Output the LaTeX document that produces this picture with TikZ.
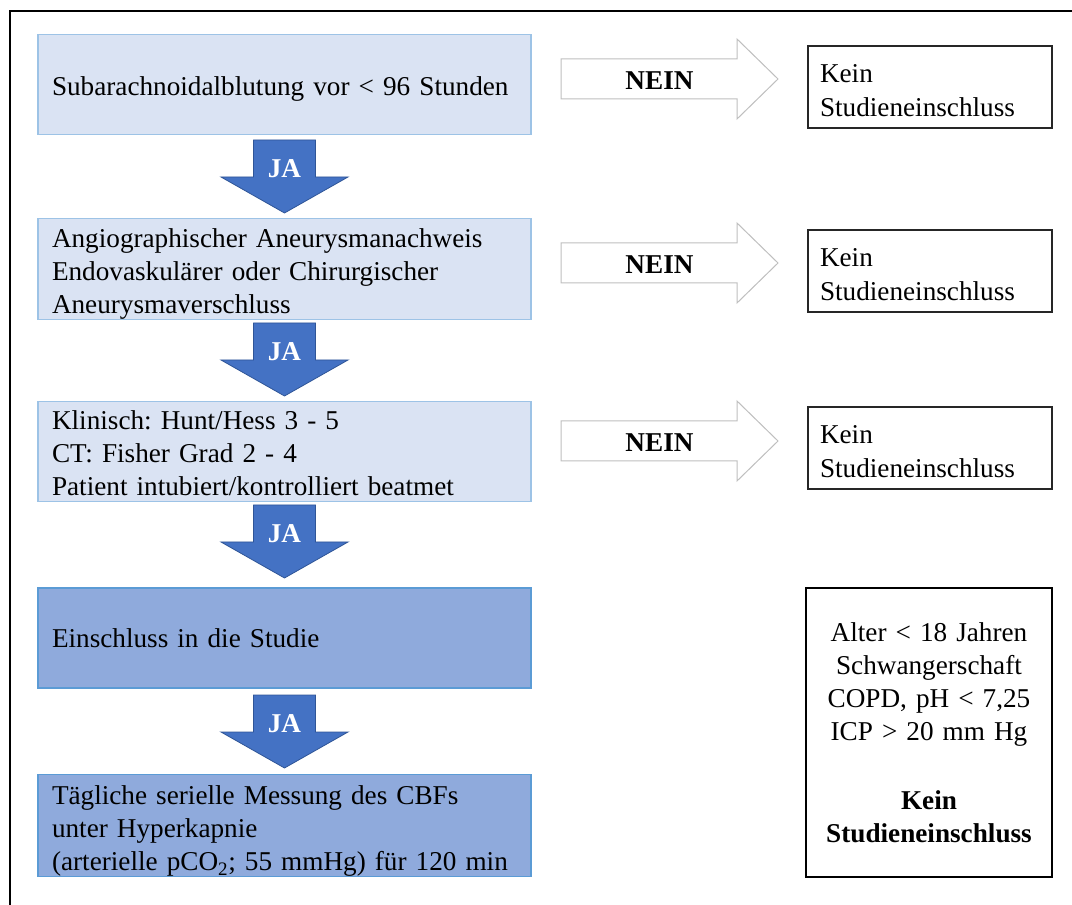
\documentclass[tikz,border=0pt]{standalone}
\usepackage{fontspec}
\setmainfont{Liberation Serif}
\frenchspacing
\definecolor{lfill}{HTML}{DAE3F3}
\definecolor{lborder}{HTML}{9DC3E6}
\definecolor{dfill}{HTML}{8FAADC}
\definecolor{dborder}{HTML}{5B9BD5}
\definecolor{jafill}{HTML}{4472C4}
\definecolor{jaborder}{HTML}{2F5597}
\definecolor{neinborder}{HTML}{BFBFBF}
\newcommand\bodysz{\fontsize{20.4pt}{24.75pt}\selectfont\frenchspacing}
\newcommand\dn[1]{\rule{0pt}{#1}}
\newcommand\jaarr[2]{%
  \begin{scope}[shift={(284.5,#2)}]
    \draw[jaarrow] (-31,0) -- (31,0) -- (31,37) -- (63.5,37) -- (0,73) -- (-63.5,37) -- (-31,37) -- cycle;
    \node[jalabel] (#1) at (0,29) {JA};
  \end{scope}}
\newcommand\neinarr[2]{%
  \begin{scope}[shift={(0,#2)}]
    \draw[neinarrow] (561,-20) -- (737,-20) -- (737,-40) -- (778,0) -- (737,40) -- (737,20) -- (561,20) -- cycle;
    \node[neinlabel] (#1) at (659.5,1.5) {NEIN};
  \end{scope}}
\begin{document}
\begin{tikzpicture}[x=0.75pt,y=-0.75pt,
  lbox/.style={draw=lborder, fill=lfill, line width=0.9pt, minimum width=369.75pt, minimum height=75pt,
    text width=348.75pt, inner xsep=10.5pt, inner ysep=0pt, align=left, font=\bodysz},
  dbox/.style={lbox, draw=dborder, fill=dfill},
  kbox/.style={draw=black!85, line width=1pt, minimum width=183pt, minimum height=61.5pt,
    text width=165pt, inner xsep=9pt, inner ysep=0pt, align=left, font=\fontsize{20.4pt}{25.5pt}\selectfont},
  bigbox/.style={draw=black, line width=1.5pt, minimum width=184.5pt, minimum height=216.75pt,
    text width=175pt, inner sep=0pt, align=center, font=\bodysz},
  jaarrow/.style={fill=jafill, draw=jaborder, line width=0.6pt},
  jalabel/.style={text=white, font=\bodysz\bfseries, inner sep=0pt},
  neinarrow/.style={draw=neinborder, fill=white, line width=0.75pt},
  neinlabel/.style={font=\bodysz\bfseries, inner sep=0pt}]
\useasboundingbox (0,0) rectangle (1072,905);
\begin{scope}
  \clip (0,0) rectangle (1072,905);
  \draw[line width=1.5pt] (10,11) rectangle (1090,930);
\end{scope}

\node[lbox] (b1) at (284.5,84.5) {\dn{20.5pt}Subarachnoidalblutung vor < 96 Stunden};
\node[lbox] (b2) at (284.5,269) {\dn{22pt}Angiographischer Aneurysmanachweis\\Endovaskulärer oder Chirurgischer\\Aneurysmaverschluss};
\node[lbox] (b3) at (284.5,451.5) {\dn{16.5pt}Klinisch: Hunt/Hess 3 - 5\\CT: Fisher Grad 2 - 4\\Patient intubiert/kontrolliert beatmet};
\node[dbox] (b4) at (284.5,638) {Einschluss in die Studie};
\node[dbox] (b5) at (284.5,825.5) {\dn{23pt}Tägliche serielle Messung des CBFs\\unter Hyperkapnie\\(arterielle pCO\textsubscript{2}; 55 mmHg) für 120 min};

\jaarr{ja1}{140}
\jaarr{ja2}{323}
\jaarr{ja3}{505}
\jaarr{ja4}{695}

\neinarr{n1}{79}
\neinarr{n2}{263}
\neinarr{n3}{441}

\node[kbox] (k1) at (930,87) {\dn{19pt}Kein\\Studieneinschluss};
\node[kbox] (k2) at (930,271) {\dn{19pt}Kein\\Studieneinschluss};
\node[kbox] (k3) at (930,448) {\dn{19pt}Kein\\Studieneinschluss};

\node[bigbox] (k4) at (929,732.5) {Alter < 18 Jahren\\Schwangerschaft\\COPD, pH < 7,25\\ICP > 20 mm Hg\\[27pt]\textbf{Kein}\\\textbf{Studieneinschluss}};
\end{tikzpicture}
\end{document}
